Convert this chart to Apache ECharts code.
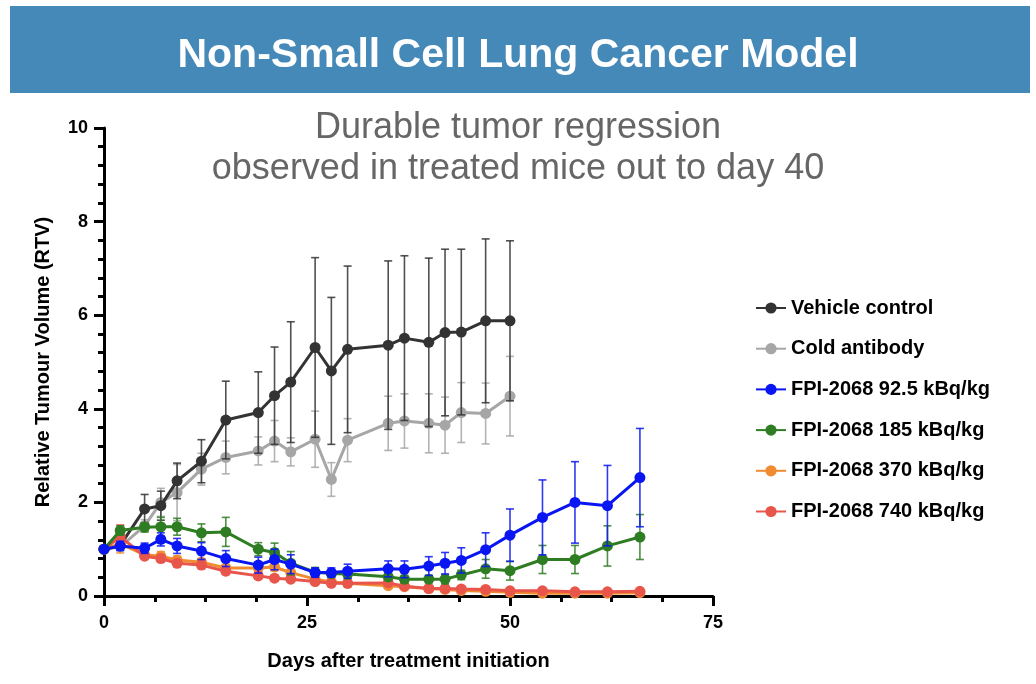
<!DOCTYPE html>
<html>
<head>
<meta charset="utf-8">
<script src="https://cdn.jsdelivr.net/npm/echarts@6/dist/echarts.min.js"></script>
<style>
html,body{margin:0;padding:0;background:#fff;}
#chart{width:1036px;height:684px;}
</style>
</head>
<body>
<div id="chart"></div>
<script>
// ---- data ----
const days = [0,2,5,7,9,12,15,19,21,23,26,28,30,35,37,40,42,44,47,50,54,58,62,66];
const seriesNames = ['Vehicle control','Cold antibody','FPI-2068 92.5 kBq/kg','FPI-2068 185 kBq/kg','FPI-2068 370 kBq/kg','FPI-2068 740 kBq/kg'];
const vehicle    = [1.0,1.08,1.86,1.93,2.46,2.88,3.76,3.92,4.28,4.57,5.31,4.81,5.27,5.36,5.51,5.42,5.63,5.64,5.88,5.88];
const vehicleErr = [0,0.05,0.31,0.31,0.38,0.46,0.83,0.87,1.04,1.29,1.92,1.57,1.78,1.8,1.76,1.8,1.78,1.77,1.75,1.71];
const cold       = [1.0,1.05,1.5,2.0,2.21,2.71,2.96,3.1,3.31,3.08,3.35,2.49,3.33,3.69,3.74,3.69,3.65,3.92,3.9,4.27];
const coldErr    = [0,0.05,0.13,0.3,0.6,0.34,0.35,0.3,0.44,0.3,0.6,0.36,0.46,0.58,0.58,0.63,0.6,0.64,0.65,0.85];
const dose92     = [1.0,1.07,1.02,1.21,1.07,0.96,0.8,0.66,0.78,0.68,0.5,0.5,0.53,0.58,0.57,0.64,0.7,0.76,0.99,1.3,1.68,2.0,1.93,2.53];
const dose92Err  = [0,0.1,0.11,0.14,0.16,0.18,0.17,0.17,0.22,0.2,0.1,0.1,0.15,0.17,0.18,0.2,0.23,0.27,0.36,0.56,0.8,0.87,0.86,1.05];
const dose185    = [1.0,1.4,1.47,1.48,1.48,1.35,1.37,1.0,0.93,0.7,0.51,0.48,0.47,0.41,0.36,0.36,0.36,0.45,0.58,0.54,0.78,0.78,1.07,1.26];
const dose185Err = [0,0.1,0.1,0.2,0.18,0.19,0.31,0.14,0.2,0.25,0.1,0.08,0.1,0.08,0.08,0.08,0.1,0.1,0.2,0.2,0.3,0.3,0.43,0.48];
const dose370    = [1.0,1.12,0.88,0.85,0.77,0.72,0.6,0.6,0.62,0.5,0.36,0.3,0.27,0.22,0.2,0.16,0.14,0.12,0.1,0.08,0.06,0.06,0.06,0.07];
const dose370Err = [0,0.2,0.06,0.1,0.08,0.08,0.07,0.07,0.08,0.06,0.04,0.04,0.03,0.03,0.03,0.02,0.02,0.02,0.02,0.02,0.01,0.01,0.01,0.01];
const dose740    = [1.0,1.27,0.85,0.8,0.7,0.66,0.53,0.43,0.38,0.36,0.31,0.27,0.27,0.28,0.21,0.16,0.16,0.15,0.14,0.11,0.11,0.09,0.09,0.1];
const dose740Err = [0,0.25,0.05,0.08,0.07,0.08,0.07,0.07,0.06,0.05,0.04,0.03,0.03,0.04,0.03,0.02,0.02,0.02,0.02,0.02,0.01,0.01,0.01,0.01];
const xTicks = [0,25,50,75];
const yTicks = [0,2,4,6,8,10];

const colors = ['#333333','#a6a6a6','#0a16f2','#2f7d22','#f28a30','#e8554b'];
const means = [vehicle,cold,dose92,dose185,dose370,dose740];
const errs  = [vehicleErr,coldErr,dose92Err,dose185Err,dose370Err,dose740Err];
const drawOrder = [1,0,4,5,3,2];

const FONT = '"Liberation Sans", Arial, sans-serif';
const chart = echarts.init(document.getElementById('chart'));

function pts(vals){ return vals.map((v,i)=>[days[i],v]); }
function errPts(vals,e){ return vals.map((v,i)=>[days[i],v,e[i]]); }

const series = [];
drawOrder.forEach((k,ord)=>{
  const c = colors[k];
  series.push({
    name: 'err-'+k, type:'custom', z: 2+ord*2, silent:true,
    data: errPts(means[k],errs[k]),
    renderItem: function(params, api){
      const x = api.value(0), y = api.value(1), e = api.value(2);
      if(!e) return null;
      const t = api.coord([x,y+e]), b = api.coord([x,y-e]);
      const w = 4;
      const st = {stroke:c, lineWidth:1.6, opacity:0.85};
      return {type:'group', children:[
        {type:'line', shape:{x1:t[0],y1:t[1],x2:b[0],y2:b[1]}, style:st},
        {type:'line', shape:{x1:t[0]-w,y1:t[1],x2:t[0]+w,y2:t[1]}, style:st},
        {type:'line', shape:{x1:b[0]-w,y1:b[1],x2:b[0]+w,y2:b[1]}, style:st}
      ]};
    }
  });
  series.push({
    name: seriesNames[k], type:'line', z: 3+ord*2,
    data: pts(means[k]),
    symbol:'circle', symbolSize:11,
    lineStyle:{color:c, width:3},
    itemStyle:{color:c},
    emphasis:{disabled:true}
  });
});

const subStyle = {color:'#666666', fontSize:36, fontWeight:'normal', fontFamily:FONT, lineHeight:41};

chart.setOption({
  animation:false,
  backgroundColor:'#fff',
  graphic:[{type:'rect', shape:{x:10,y:6,width:1020,height:87}, style:{fill:'#4589b9'}, z:-1}],
  title:[
    {text:'Non-Small Cell Lung Cancer Model', left:'center', top:30,
     textStyle:{color:'#fff', fontSize:41, fontWeight:'bold', fontFamily:FONT, lineHeight:41}},
    {text:'Durable tumor regression', left:'center', top:103, textStyle:subStyle},
    {text:'observed in treated mice out to day 40', left:'center', top:144, textStyle:subStyle}
  ],
  legend:{
    orient:'vertical', left:750, top:293,
    data: seriesNames,
    itemWidth:30, itemHeight:14, itemGap:20.7,
    textStyle:{fontSize:20, fontWeight:'bold', color:'#000', fontFamily:FONT, lineHeight:20},
    selectedMode:false
  },
  grid:{left:104, top:128, width:609, height:468, containLabel:false},
  xAxis:{
    type:'value', min:0, max:75, interval:25,
    name:'Days after treatment initiation', nameLocation:'middle', nameGap:55,
    nameTextStyle:{fontSize:20, fontWeight:'bold', color:'#000', fontFamily:FONT},
    axisLine:{show:true, onZero:false, lineStyle:{color:'#000', width:3}},
    axisTick:{show:true, length:10, lineStyle:{color:'#000', width:3}},
    minorTick:{show:true, splitNumber:4, length:6, lineStyle:{color:'#000', width:3}},
    axisLabel:{margin:18, fontSize:18, fontWeight:'bold', color:'#000', fontFamily:FONT,
      formatter: v => xTicks.includes(v) ? String(v) : ''},
    splitLine:{show:false}
  },
  yAxis:{
    type:'value', min:0, max:10, interval:2,
    name:'Relative Tumour Volume (RTV)', nameLocation:'middle', nameGap:51,
    nameTextStyle:{fontSize:20, fontWeight:'bold', color:'#000', fontFamily:FONT},
    axisLine:{show:true, onZero:false, lineStyle:{color:'#000', width:3}},
    axisTick:{show:true, length:10, lineStyle:{color:'#000', width:3}},
    minorTick:{show:true, splitNumber:5, length:6, lineStyle:{color:'#000', width:3}},
    axisLabel:{margin:16, fontSize:18, fontWeight:'bold', color:'#000', fontFamily:FONT,
      formatter: v => yTicks.includes(v) ? String(v) : ''},
    splitLine:{show:false}
  },
  series: series
});
</script>
</body>
</html>
